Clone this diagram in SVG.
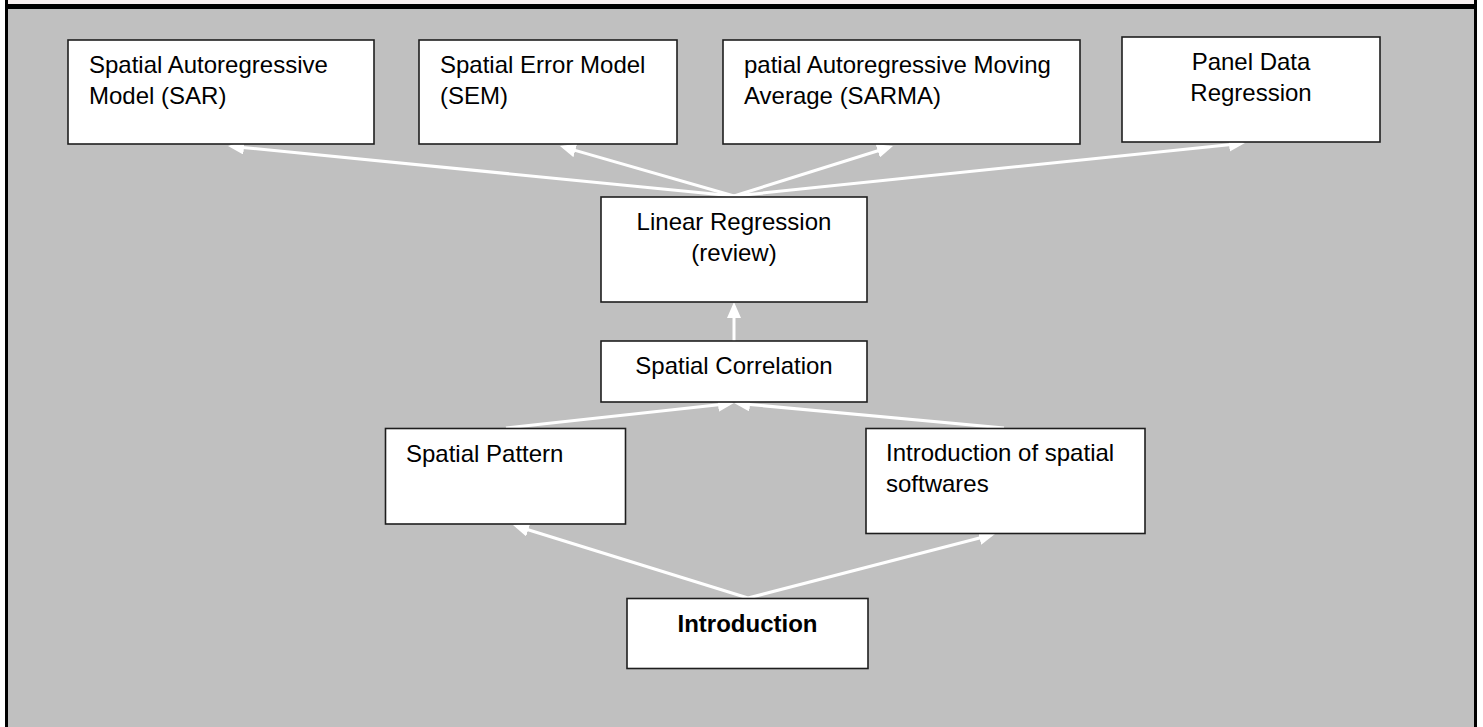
<svg xmlns="http://www.w3.org/2000/svg" width="1483" height="727" viewBox="0 0 1483 727">
  <defs>
    <style>
      .box { fill: #ffffff; stroke: #1e1e1e; stroke-width: 1.6; }
      .lbl { font-family: "Liberation Sans", Arial, sans-serif; font-size: 24px; fill: #000000; }
      .mid { text-anchor: middle; }
      .bold { font-weight: bold; }
      .conn { stroke: #ffffff; stroke-width: 3; fill: none; marker-end: url(#arrow); }
    </style>
    <marker id="arrow" viewBox="0 0 16 14" refX="12" refY="7" markerWidth="16" markerHeight="14" markerUnits="userSpaceOnUse" orient="auto">
      <path d="M0,0 L16,7 L0,14 Z" fill="#ffffff"/>
    </marker>
  </defs>

  <!-- page background and frame -->
  <rect x="0" y="0" width="1483" height="727" fill="#ffffff"/>
  <rect x="8" y="0" width="1466" height="4" fill="#f8f0f0"/>
  <rect x="8" y="9" width="1466" height="718" fill="#c0c0c0"/>
  <rect x="5" y="4" width="1472" height="5" fill="#000000"/>
  <rect x="5" y="0" width="3" height="727" fill="#000000"/>
  <rect x="1474" y="0" width="3" height="727" fill="#000000"/>

  <!-- connectors -->
  <g id="connectors">
    <line class="conn" x1="734" y1="196" x2="232" y2="146.4"/>
    <line class="conn" x1="734" y1="196" x2="563.8" y2="147.1"/>
    <line class="conn" x1="734" y1="196" x2="889.2" y2="147.2"/>
    <line class="conn" x1="734" y1="196" x2="1241" y2="143.4"/>
    <line class="conn" x1="734" y1="341" x2="734" y2="306"/>
    <line class="conn" x1="506" y1="428" x2="730" y2="403.4"/>
    <line class="conn" x1="1004" y1="428" x2="738" y2="403.4"/>
    <line class="conn" x1="748" y1="598" x2="516.8" y2="526.2"/>
    <line class="conn" x1="748" y1="598" x2="991.1" y2="535"/>
  </g>

  <g id="node-sar">
    <rect class="box" x="68" y="40" width="306" height="104"/>
    <text class="lbl" x="89" y="73">Spatial Autoregressive</text>
    <text class="lbl" x="89" y="104">Model (SAR)</text>
  </g>

  <g id="node-sem">
    <rect class="box" x="419" y="40" width="258" height="104"/>
    <text class="lbl" x="440" y="73">Spatial Error Model</text>
    <text class="lbl" x="440" y="104">(SEM)</text>
  </g>

  <g id="node-sarma">
    <rect class="box" x="723" y="40" width="357" height="104"/>
    <text class="lbl" x="744" y="73">patial Autoregressive Moving</text>
    <text class="lbl" x="744" y="104">Average (SARMA)</text>
  </g>

  <g id="node-panel">
    <rect class="box" x="1122" y="37" width="258" height="105"/>
    <text class="lbl mid" x="1251" y="70">Panel Data</text>
    <text class="lbl mid" x="1251" y="101">Regression</text>
  </g>

  <g id="node-linear">
    <rect class="box" x="601" y="197" width="266" height="105"/>
    <text class="lbl mid" x="734" y="230">Linear Regression</text>
    <text class="lbl mid" x="734" y="261">(review)</text>
  </g>

  <g id="node-correlation">
    <rect class="box" x="601" y="341" width="266" height="61"/>
    <text class="lbl mid" x="734" y="374">Spatial Correlation</text>
  </g>

  <g id="node-pattern">
    <rect class="box" x="385.5" y="428.5" width="240" height="95.5"/>
    <text class="lbl" x="406" y="462">Spatial Pattern</text>
  </g>

  <g id="node-softwares">
    <rect class="box" x="866" y="428.5" width="279" height="105"/>
    <text class="lbl" x="886" y="461">Introduction of spatial</text>
    <text class="lbl" x="886" y="492">softwares</text>
  </g>

  <g id="node-introduction">
    <rect class="box" x="627" y="598.5" width="241" height="70"/>
    <text class="lbl mid bold" x="747.5" y="632">Introduction</text>
  </g>
</svg>
